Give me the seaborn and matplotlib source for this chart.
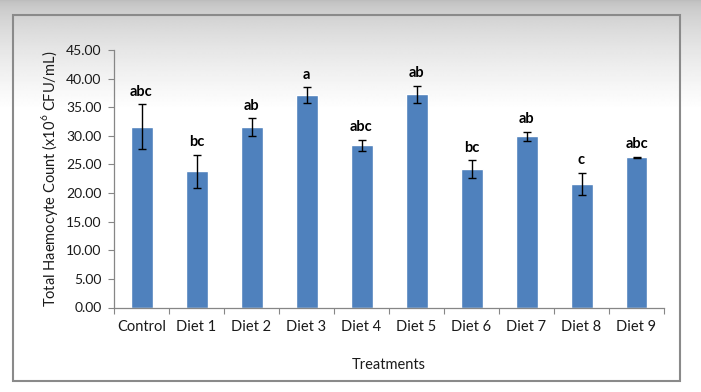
import numpy as np
import pandas as pd
import matplotlib
matplotlib.use("Agg")
import matplotlib.pyplot as plt
import seaborn as sns
from matplotlib.patches import Rectangle

treatments = ["Control", "Diet 1", "Diet 2", "Diet 3", "Diet 4",
              "Diet 5", "Diet 6", "Diet 7", "Diet 8", "Diet 9"]
means = [31.6, 23.8, 31.5, 37.15, 28.35, 37.25, 24.2, 29.9, 21.6, 26.25]
errors = [3.95, 2.9, 1.6, 1.35, 1.0, 1.45, 1.5, 0.8, 1.9, 0.05]
letters = ["abc", "bc", "ab", "a", "abc", "ab", "bc", "ab", "c", "abc"]
yticks = [0, 5, 10, 15, 20, 25, 30, 35, 40, 45]

sns.set_theme(style="white")
plt.rcParams["font.family"] = ["Lato", "DejaVu Sans"]
plt.rcParams["mathtext.fontset"] = "custom"
plt.rcParams["mathtext.rm"] = "Lato"

W, H = 701, 392
fig = plt.figure(figsize=(W / 100, H / 100), dpi=100)

# background gradient
bg = fig.add_axes([0, 0, 1, 1], zorder=-10)
grad = np.linspace(0, 1, 392)
vals = 0.74 + 0.26 * np.clip(grad / 0.28, 0, 1) ** 0.6
bg.imshow(np.tile(vals[:, None], (1, 2)), cmap="gray", vmin=0, vmax=1,
          aspect="auto", extent=[0, 1, 0, 1], origin="upper")
bg.set_xlim(0, 1)
bg.set_ylim(0, 1)
bg.axis("off")
bg.add_patch(Rectangle((13.5 / W, 1 - 380.5 / H), (679.5 - 13.5) / W, (380.5 - 14.5) / H,
                       fill=False, edgecolor="#8a8a8a", linewidth=1.5))

ax = fig.add_axes([114 / W, 1 - 307.5 / H, (664 - 114) / W, (307.5 - 50) / H])
ax.patch.set_alpha(0)

df = pd.DataFrame({"Treatment": treatments, "Mean": means, "Err": errors})
sns.barplot(data=df, x="Treatment", y="Mean", color="#4F81BD", width=0.4,
            saturation=1, errorbar=None, ax=ax)
x = np.arange(len(treatments))
ax.errorbar(x, means, yerr=errors, fmt="none", ecolor="black",
            elinewidth=1, capsize=2.8, capthick=1)

for xi, m, e, lab in zip(x, means, errors, letters):
    ax.annotate(lab, (xi, m + e), xytext=(0, 4), textcoords="offset points",
                ha="center", va="bottom", fontsize=10.5, fontweight="bold", color="black")

ax.set_ylim(0, 45)
ax.set_xlim(-0.5, len(treatments) - 0.5)
ax.set_yticks(yticks)
ax.set_yticklabels([f"{v:.2f}" for v in yticks])
ax.set_xticks(x)
ax.set_xticklabels(treatments)
ax.set_xticks(np.arange(-0.5, len(treatments)), minor=True)
ax.tick_params(axis="x", which="major", length=0, pad=9, labelsize=10.5, colors="#1a1a1a")
ax.tick_params(axis="x", which="minor", length=4, width=0.8, color="#868686", direction="out", bottom=True)
ax.tick_params(axis="y", length=4, width=0.8, color="#868686", direction="out", left=True,
               pad=5, labelsize=10, labelcolor="#1a1a1a")

for s in ["top", "right"]:
    ax.spines[s].set_visible(False)
for s in ["left", "bottom"]:
    ax.spines[s].set_color("#868686")
    ax.spines[s].set_linewidth(0.9)

ax.set_xlabel("Treatments", fontsize=10.5, color="#1a1a1a", labelpad=17)
ax.set_ylabel("Total Haemocyte Count (x10$^{6}$ CFU/mL)", fontsize=10.5, color="#1a1a1a", labelpad=4)

fig.savefig("out.png", dpi=100)
